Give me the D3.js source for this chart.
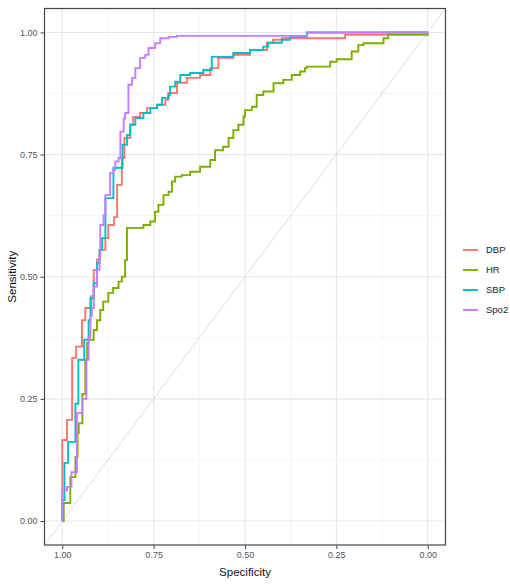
<!DOCTYPE html>
<html>
<head>
<meta charset="utf-8">
<script src="https://cdn.jsdelivr.net/npm/d3@7"></script>
<style>
  html, body { margin: 0; padding: 0; background: #fff; }
  svg { display: block; font-family: "Liberation Sans", Arial, sans-serif; }
</style>
</head>
<body>
<svg id="chart" width="510" height="584"></svg>
<script>
// ROC curves: [specificity, sensitivity] at each threshold step
const seriesNames = ["DBP", "HR", "SBP", "Spo2"];
const seriesColors = ["#F8766D", "#7CAE00", "#00BFC4", "#C77CFF"];

const rocDBP = [[1,0],[1,0.166],[0.987,0.207],[0.973,0.334],[0.962,0.357],[0.946,0.411],[0.937,0.436],
  [0.921,0.46],[0.914,0.514],[0.905,0.535],[0.898,0.555],[0.882,0.579],[0.874,0.606],[0.858,0.622],
  [0.850,0.688],[0.837,0.743],[0.830,0.784],[0.814,0.811],[0.806,0.827],[0.787,0.835],[0.768,0.845],
  [0.741,0.852],[0.718,0.862],[0.710,0.876],[0.686,0.897],[0.659,0.907],[0.623,0.913],[0.595,0.927],
  [0.573,0.948],[0.532,0.954],[0.486,0.964],[0.440,0.979],[0.423,0.985],[0.399,0.988],[0.226,0.995],
  [0.109,1],[0,1]];

const rocHR = [[1,0],[0.996,0.037],[0.978,0.09],[0.964,0.131],[0.958,0.18],[0.955,0.2],[0.945,0.26],
  [0.937,0.33],[0.932,0.365],[0.928,0.371],[0.914,0.391],[0.905,0.411],[0.896,0.432],[0.888,0.449],
  [0.874,0.467],[0.861,0.477],[0.846,0.49],[0.837,0.50],[0.828,0.534],[0.823,0.600],[0.805,0.600],
  [0.778,0.606],[0.759,0.613],[0.746,0.633],[0.737,0.647],[0.723,0.667],[0.709,0.674],[0.700,0.695],
  [0.691,0.705],[0.673,0.708],[0.650,0.715],[0.623,0.725],[0.595,0.739],[0.582,0.759],[0.560,0.766],
  [0.545,0.784],[0.532,0.800],[0.518,0.811],[0.504,0.828],[0.500,0.841],[0.481,0.848],[0.468,0.872],
  [0.450,0.879],[0.422,0.896],[0.395,0.903],[0.372,0.913],[0.349,0.920],[0.336,0.927],[0.331,0.930],
  [0.267,0.940],[0.249,0.945],[0.208,0.961],[0.190,0.974],[0.176,0.978],[0.121,0.988],[0.108,0.995],
  [0,1]];

const rocSBP = [[1,0],[1,0.043],[0.994,0.119],[0.984,0.162],[0.964,0.24],[0.956,0.33],[0.940,0.371],
  [0.928,0.411],[0.923,0.456],[0.914,0.487],[0.905,0.528],[0.898,0.555],[0.891,0.579],[0.882,0.661],
  [0.860,0.723],[0.835,0.770],[0.823,0.790],[0.814,0.811],[0.800,0.825],[0.778,0.835],[0.759,0.845],
  [0.741,0.852],[0.727,0.866],[0.709,0.872],[0.705,0.889],[0.691,0.899],[0.677,0.913],[0.650,0.917],
  [0.614,0.923],[0.591,0.950],[0.532,0.958],[0.486,0.964],[0.450,0.971],[0.437,0.979],[0.399,0.985],
  [0.377,0.991],[0.331,1],[0,1]];

const rocSpo2 = [[1,0],[1,0.063],[0.987,0.07],[0.975,0.10],[0.960,0.221],[0.945,0.25],[0.934,0.33],
  [0.928,0.377],[0.923,0.42],[0.919,0.436],[0.914,0.480],[0.905,0.514],[0.898,0.541],[0.896,0.606],
  [0.887,0.626],[0.882,0.667],[0.869,0.712],[0.860,0.719],[0.855,0.736],[0.846,0.743],[0.841,0.797],
  [0.832,0.824],[0.828,0.835],[0.819,0.893],[0.809,0.907],[0.800,0.927],[0.787,0.948],[0.773,0.954],
  [0.764,0.968],[0.746,0.978],[0.732,0.988],[0.709,0.991],[0.686,0.993],[0.33,1],[0,1]];

const seriesData = [rocDBP, rocHR, rocSBP, rocSpo2];

const tickValues = [0, 0.25, 0.5, 0.75, 1];
const minorValues = [0.125, 0.375, 0.625, 0.875];

const svg = d3.select("#chart");
const panel = { left: 44, right: 446, top: 8, bottom: 545.5 };

// specificity runs from 1 on the left to 0 on the right
const x = d3.scaleLinear().domain([1.05, -0.05]).range([panel.left, panel.right]);
const y = d3.scaleLinear().domain([-0.05, 1.05]).range([panel.bottom, panel.top]);

// panel background
svg.append("rect")
  .attr("x", panel.left).attr("y", panel.top)
  .attr("width", panel.right - panel.left).attr("height", panel.bottom - panel.top)
  .attr("fill", "#fff");

const grid = svg.append("g");
// minor grid
grid.selectAll("line.vminor").data(minorValues).join("line")
  .attr("x1", d => x(d)).attr("x2", d => x(d))
  .attr("y1", panel.top).attr("y2", panel.bottom)
  .attr("stroke", "#f2f2f2").attr("stroke-width", 0.8);
grid.selectAll("line.hminor").data(minorValues).join("line")
  .attr("y1", d => y(d)).attr("y2", d => y(d))
  .attr("x1", panel.left).attr("x2", panel.right)
  .attr("stroke", "#f2f2f2").attr("stroke-width", 0.8);
// major grid
grid.selectAll("line.vmajor").data(tickValues).join("line")
  .attr("x1", d => x(d)).attr("x2", d => x(d))
  .attr("y1", panel.top).attr("y2", panel.bottom)
  .attr("stroke", "#e6e6e6").attr("stroke-width", 1.1);
grid.selectAll("line.hmajor").data(tickValues).join("line")
  .attr("y1", d => y(d)).attr("y2", d => y(d))
  .attr("x1", panel.left).attr("x2", panel.right)
  .attr("stroke", "#e6e6e6").attr("stroke-width", 1.1);

// clip to the panel
svg.append("clipPath").attr("id", "panel-clip")
  .append("rect")
  .attr("x", panel.left).attr("y", panel.top)
  .attr("width", panel.right - panel.left).attr("height", panel.bottom - panel.top);

const plot = svg.append("g").attr("clip-path", "url(#panel-clip)");

// chance diagonal: sensitivity = 1 - specificity
plot.append("line")
  .attr("x1", x(1.05)).attr("y1", y(-0.05))
  .attr("x2", x(-0.05)).attr("y2", y(1.05))
  .attr("stroke", "#d4d4d4").attr("stroke-width", 0.8);

const line = d3.line()
  .x(d => x(d[0]))
  .y(d => y(d[1]))
  .curve(d3.curveStepAfter);

seriesData.forEach((data, i) => {
  plot.append("path")
    .datum(data)
    .attr("d", line)
    .attr("fill", "none")
    .attr("stroke", seriesColors[i])
    .attr("stroke-width", 1.9)
    .attr("stroke-linejoin", "miter");
});

// panel border
svg.append("rect")
  .attr("x", panel.left + 0.5).attr("y", panel.top + 0.5)
  .attr("width", panel.right - panel.left - 1).attr("height", panel.bottom - panel.top - 1)
  .attr("fill", "none").attr("stroke", "#444").attr("stroke-width", 1.2);

// axes
const fmt = d3.format(".2f");
const xAxis = svg.append("g")
  .attr("transform", `translate(0,${panel.bottom})`)
  .call(d3.axisBottom(x).tickValues(tickValues).tickFormat(fmt).tickSize(3.5).tickPadding(3));
const yAxis = svg.append("g")
  .attr("transform", `translate(${panel.left},0)`)
  .call(d3.axisLeft(y).tickValues(tickValues).tickFormat(fmt).tickSize(3.5).tickPadding(3));

[xAxis, yAxis].forEach(g => {
  g.select(".domain").remove();
  g.selectAll(".tick line").attr("stroke", "#444").attr("stroke-width", 1);
  g.selectAll(".tick text")
    .attr("fill", "#555")
    .style("font-size", "9px")
    .style("font-family", "'Liberation Sans', Arial, sans-serif");
});

// axis titles
svg.append("text")
  .attr("x", (panel.left + panel.right) / 2).attr("y", 576)
  .attr("text-anchor", "middle")
  .style("font-size", "11.5px").attr("fill", "#111")
  .text("Specificity");
svg.append("text")
  .attr("transform", `translate(16,${(panel.top + panel.bottom) / 2}) rotate(-90)`)
  .attr("text-anchor", "middle")
  .style("font-size", "11.5px").attr("fill", "#111")
  .text("Sensitivity");

// legend
const legend = svg.append("g").attr("transform", "translate(463,250)");
seriesNames.forEach((name, i) => {
  const g = legend.append("g").attr("transform", `translate(0,${i * 20})`);
  g.append("line")
    .attr("x1", 0).attr("x2", 15).attr("y1", 0).attr("y2", 0)
    .attr("stroke", seriesColors[i]).attr("stroke-width", 1.9);
  g.append("text")
    .attr("x", 23).attr("y", 0).attr("dy", "0.35em")
    .style("font-size", "9.5px").attr("fill", "#222")
    .text(name);
});
</script>
</body>
</html>
